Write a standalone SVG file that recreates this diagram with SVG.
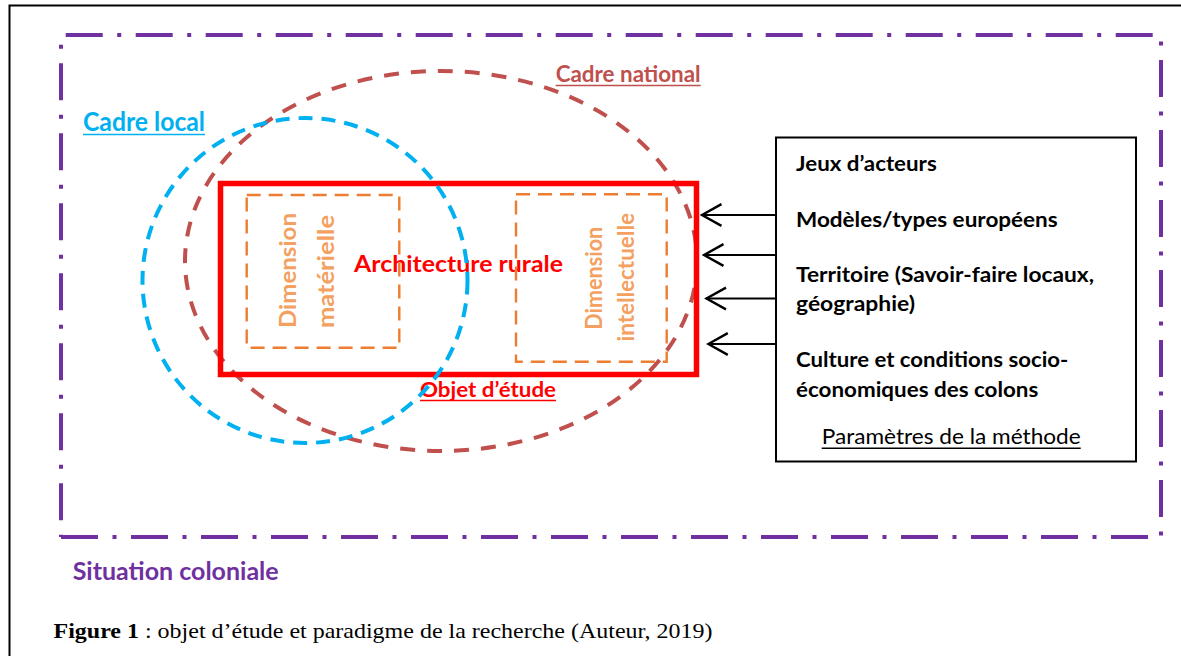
<svg xmlns="http://www.w3.org/2000/svg" width="1181" height="656" viewBox="0 0 1181 656">
<defs>
<style>
.frame{fill:none;stroke:#000;stroke-width:2}
.purple{fill:none;stroke:#7030A0;stroke-width:4;stroke-dasharray:37 14.5 4 14.5}
.brown{fill:none;stroke:#C0504D;stroke-width:4;stroke-dasharray:15 12}
.blue{fill:none;stroke:#00B0F0;stroke-width:4;stroke-dasharray:14 9}
.red{fill:none;stroke:#FF0000;stroke-width:5.5}
.orange{fill:none;stroke:#ED7D31;stroke-width:2.4;stroke-dasharray:14 8}
.box{fill:#fff;stroke:#000;stroke-width:2}
.arrow{stroke:#000;stroke-width:2.2;fill:none;marker-end:url(#open)}
.sans{font-family:Lato,"Open Sans","Liberation Sans",sans-serif}
.b{font-weight:bold}
.dim{fill:#F3A060;font-size:23px;text-anchor:middle}
.param{font-size:21px;fill:#000}
</style>
<marker id="open" markerUnits="userSpaceOnUse" markerWidth="24" markerHeight="26" viewBox="-20 -12 22 24" refX="0" refY="0" orient="auto">
<path d="M-18,-10 L0,0 L-18,10" fill="none" stroke="#000" stroke-width="2.2"/>
</marker>
</defs>
<rect width="1181" height="656" fill="#fff"/>
<rect class="frame" x="9.5" y="5.5" width="1200" height="700"/>

<g id="situation-coloniale">
<line class="purple" x1="61" y1="35" x2="1161" y2="35" stroke-dashoffset="65.3"/>
<line class="purple" x1="61" y1="35" x2="61" y2="537" stroke-dashoffset="41.8"/>
<line class="purple" x1="1161" y1="35" x2="1161" y2="537" stroke-dashoffset="45"/>
<line class="purple" x1="61" y1="537" x2="1161" y2="537" stroke-dashoffset="0"/>
<text class="sans b" x="72.7" y="580" font-size="24" fill="#7030A0" textLength="206" lengthAdjust="spacingAndGlyphs">Situation coloniale</text>
</g>

<g id="cadre-national">
<ellipse class="brown" cx="441" cy="261" rx="256" ry="190"/>
<text class="sans b" x="555.7" y="81.5" font-size="23" fill="#C0504D" textLength="145" lengthAdjust="spacingAndGlyphs">Cadre national</text>
<line x1="555.7" y1="85.5" x2="700.7" y2="85.5" stroke="#C0504D" stroke-width="1.6"/>
</g>

<g id="objet-etude">
<rect class="red" x="220.5" y="183.5" width="476" height="191"/>
<text class="sans b" x="354" y="272" font-size="23" fill="#FF0000" textLength="209" lengthAdjust="spacingAndGlyphs">Architecture rurale</text>
<text class="sans b" x="420" y="396.5" font-size="21" fill="#FF0000" textLength="136" lengthAdjust="spacingAndGlyphs">Objet d’étude</text>
<line x1="420" y1="400.5" x2="556" y2="400.5" stroke="#FF0000" stroke-width="1.6"/>
</g>

<g id="dimension-materielle">
<rect class="orange" x="246.7" y="195" width="152.6" height="152.7"/>
<text class="sans b dim" transform="translate(296,270.5) rotate(-90)" textLength="115" lengthAdjust="spacingAndGlyphs">Dimension</text>
<text class="sans b dim" transform="translate(333.5,271.5) rotate(-90)" textLength="113" lengthAdjust="spacingAndGlyphs">matérielle</text>
</g>

<g id="dimension-intellectuelle">
<rect class="orange" x="516" y="194.3" width="150.7" height="167.4"/>
<text class="sans b dim" transform="translate(601.5,278.3) rotate(-90)" textLength="103" lengthAdjust="spacingAndGlyphs">Dimension</text>
<text class="sans b dim" transform="translate(633.5,277.3) rotate(-90)" textLength="128.5" lengthAdjust="spacingAndGlyphs">intellectuelle</text>
</g>

<g id="cadre-local">
<circle class="blue" cx="305" cy="280.5" r="162.5"/>
<text class="sans b" x="83" y="130.7" font-size="26" fill="#00B0F0" textLength="122" lengthAdjust="spacingAndGlyphs">Cadre local</text>
<line x1="83" y1="134.5" x2="205" y2="134.5" stroke="#00B0F0" stroke-width="1.6"/>
</g>

<g id="connectors">
<line class="arrow" x1="776" y1="215" x2="702" y2="215"/>
<line class="arrow" x1="776" y1="255" x2="704" y2="255"/>
<line class="arrow" x1="776" y1="298.5" x2="706.5" y2="298.5"/>
<line class="arrow" x1="776" y1="344" x2="708.3" y2="344"/>
</g>

<g id="parametres">
<rect class="box" x="776" y="137.5" width="360" height="324"/>
<g class="sans b param">
<text x="796" y="170.7" textLength="140.7" lengthAdjust="spacingAndGlyphs">Jeux d’acteurs</text>
<text x="796" y="226.7" textLength="261.7" lengthAdjust="spacingAndGlyphs">Modèles/types européens</text>
<text x="796" y="282" textLength="298" lengthAdjust="spacingAndGlyphs">Territoire (Savoir-faire locaux,</text>
<text x="796" y="310.7" textLength="119" lengthAdjust="spacingAndGlyphs">géographie)</text>
<text x="796" y="367.3" textLength="272.3" lengthAdjust="spacingAndGlyphs">Culture et conditions socio-</text>
<text x="796" y="396.7" textLength="242.3" lengthAdjust="spacingAndGlyphs">économiques des colons</text>
</g>
<text class="sans" x="821.7" y="444" font-size="22" fill="#000" textLength="259" lengthAdjust="spacingAndGlyphs">Paramètres de la méthode</text>
<line x1="821.7" y1="448.3" x2="1080.7" y2="448.3" stroke="#000" stroke-width="1.4"/>
</g>

<text x="53.5" y="638" font-family="'Liberation Serif','Times New Roman',serif" font-size="22" fill="#000" textLength="659" lengthAdjust="spacingAndGlyphs"><tspan font-weight="bold">Figure 1</tspan> : objet d’étude et paradigme de la recherche (Auteur, 2019)</text>
</svg>
